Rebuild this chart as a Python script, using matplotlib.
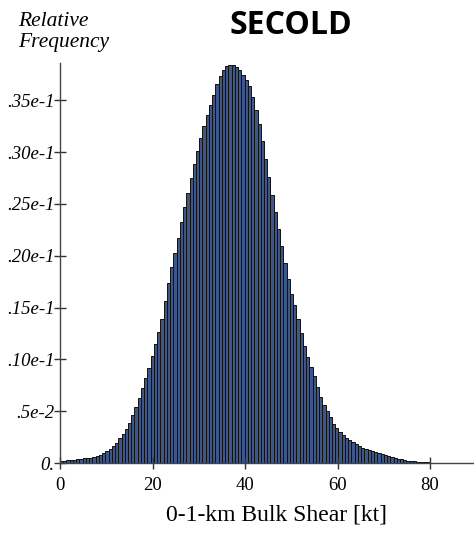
import numpy as np
import matplotlib.pyplot as plt

# relative frequency of 0-1-km bulk shear, 0.7 kt bins starting at 0 kt
bin_width = 0.7
freq_milli = [
    0.21, 0.22, 0.26, 0.28, 0.31, 0.34, 0.39, 0.44, 0.48, 0.53,
    0.60, 0.69, 0.81, 0.96, 1.15, 1.36, 1.62, 1.95, 2.37, 2.82,
    3.31, 3.86, 4.63, 5.44, 6.28, 7.21, 8.17, 9.15, 10.32, 11.44,
    12.63, 13.93, 15.68, 17.34, 18.90, 20.30, 21.76, 23.23, 24.70, 26.10,
    27.50, 28.89, 30.15, 31.37, 32.53, 33.58, 34.57, 35.55, 36.53, 37.32,
    37.91, 38.31, 38.45, 38.41, 38.22, 37.88, 37.47, 36.98, 36.35, 35.33,
    34.10, 32.69, 31.08, 29.38, 27.63, 25.88, 24.24, 22.60, 20.92, 19.30,
    17.77, 16.32, 15.20, 13.90, 12.53, 11.27, 10.23, 9.28, 8.37, 7.33,
    6.38, 5.56, 5.00, 4.40, 3.81, 3.39, 3.03, 2.70, 2.42, 2.20,
    1.99, 1.79, 1.61, 1.46, 1.33, 1.22, 1.12, 1.02, 0.93, 0.84,
    0.75, 0.65, 0.56, 0.47, 0.41, 0.34, 0.29, 0.24, 0.20, 0.17,
    0.14, 0.11, 0.08, 0.06, 0.04, 0.02,
]
freq = np.array(freq_milli) * 1e-3
left_edges = np.arange(len(freq)) * bin_width

x_ticks = [0, 20, 40, 60, 80]
y_ticks = [0, 0.005, 0.010, 0.015, 0.020, 0.025, 0.030, 0.035]
y_labels = ['0.', '.5e-2', '.10e-1', '.15e-1', '.20e-1', '.25e-1', '.30e-1', '.35e-1']

fig = plt.figure(figsize=(4.74, 5.35), dpi=100)
ax = fig.add_axes([60 / 474, 72 / 535, 414 / 474, 400 / 535])

ax.bar(left_edges, freq, width=bin_width, align='edge',
       color='#3f5688', edgecolor='#111111', linewidth=0.7)

ax.set_xlim(0, 89.5)
ax.set_ylim(0, 0.0386)

for s in ['top', 'right']:
    ax.spines[s].set_visible(False)
for s in ['left', 'bottom']:
    ax.spines[s].set_color('#444444')
    ax.spines[s].set_linewidth(1.0)

ax.set_xticks(x_ticks)
ax.set_xticklabels([str(t) for t in x_ticks], family='Liberation Serif', fontsize=13.5)
ax.set_yticks(y_ticks)
ax.set_yticklabels(y_labels, family='Liberation Serif', style='italic', fontsize=13.5)
ax.tick_params(direction='inout', length=8, width=1.0, color='#333333')
ax.tick_params(axis='x', pad=6)
ax.tick_params(axis='y', pad=0)

ax.set_xlabel('0-1-km Bulk Shear [kt]', family='Liberation Serif', fontsize=17)
ax.xaxis.set_label_coords(0.524, -0.105)

fig.text(18 / 474, 1 - 32 / 535, 'Relative\nFrequency', family='Liberation Serif',
         style='italic', fontsize=15.5, va='center', ha='left', linespacing=1.2)
fig.text(291 / 474, 1 - 26 / 535, 'SECOLD', family='Open Sans', weight='bold',
         fontsize=23, ha='center', va='center')

fig.savefig('out.png', dpi=100)
